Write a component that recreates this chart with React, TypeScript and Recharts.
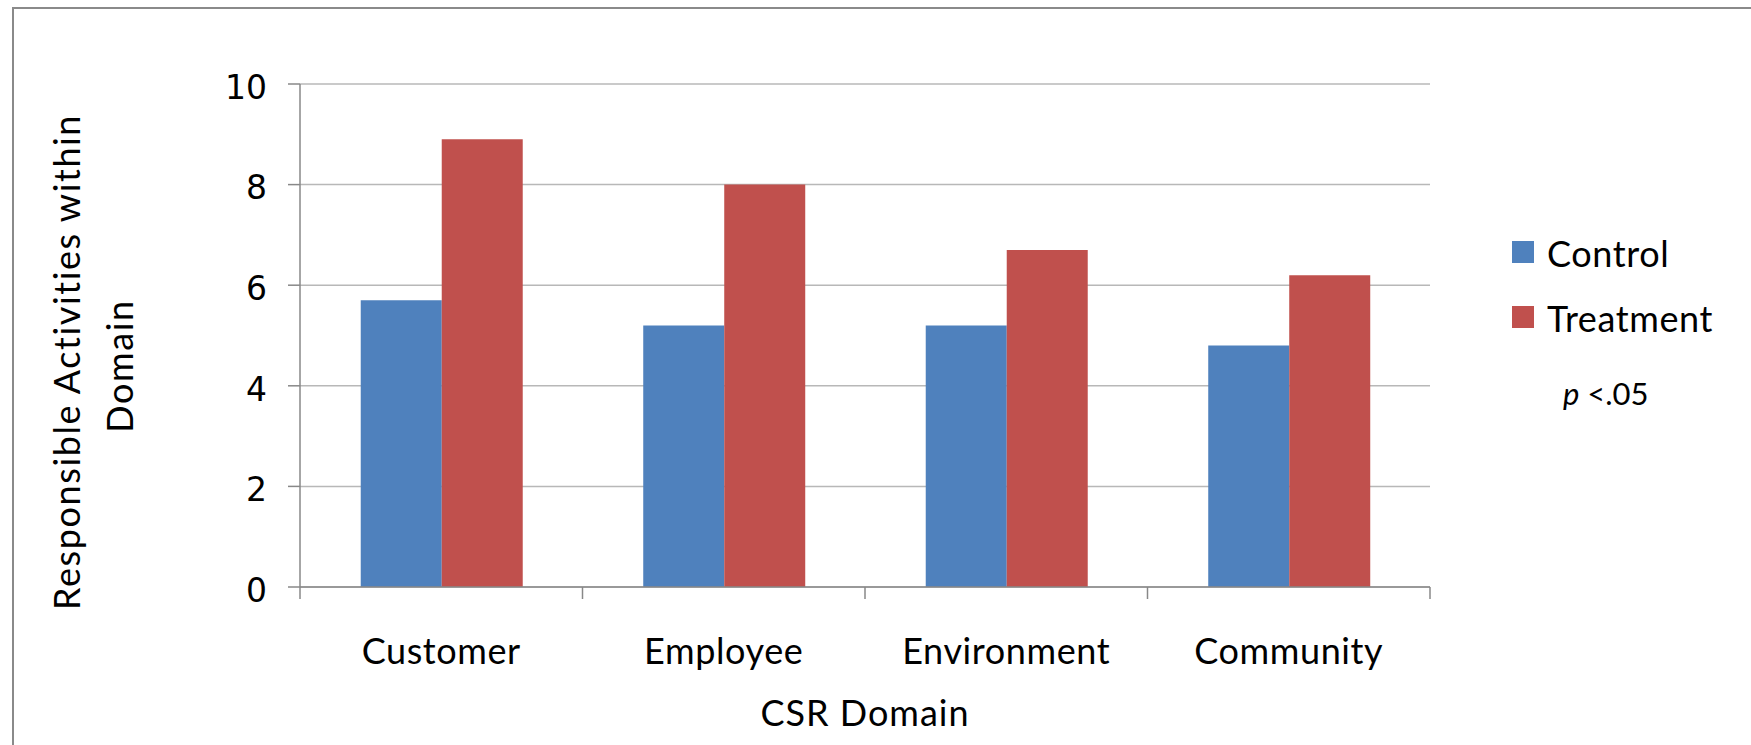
import { BarChart, Bar, XAxis, YAxis, CartesianGrid, Legend, Label } from "recharts";

const domains = ["Customer", "Employee", "Environment", "Community"];
const control = [5.7, 5.2, 5.2, 4.8];
const treatment = [8.9, 8.0, 6.7, 6.2];
const yTicks = [0, 2, 4, 6, 8, 10];

const data = domains.map((d, i) => ({ domain: d, control: control[i], treatment: treatment[i] }));

const BLUE = "#4F81BD";
const RED = "#C0504D";
const FONT = "Lato, 'Open Sans', sans-serif";

function DomainTick(props: any) {
  const { x, y, payload, index } = props;
  const off = payload?.offset ?? 0;
  return (
    <g>
      <line x1={x - off} x2={x - off} y1={y} y2={y + 12} stroke="#888" strokeWidth={1.5} />
      {index === domains.length - 1 && (
        <line x1={x + off} x2={x + off} y1={y} y2={y + 12} stroke="#888" strokeWidth={1.5} />
      )}
      <text x={x} y={y + 77} textAnchor="middle" fontFamily={FONT} fontSize={36} letterSpacing={0.6} fill="#000">
        {payload.value}
      </text>
    </g>
  );
}

function YTitle() {
  return (
    <g fontFamily={FONT} fontSize={36} fill="#000" letterSpacing={1.6}>
      <text x={80} y={362} textAnchor="middle" transform="rotate(-90 80 362)">
        Responsible Activities within
      </text>
      <text x={133} y={366} textAnchor="middle" transform="rotate(-90 133 366)">
        Domain
      </text>
    </g>
  );
}

function LegendBox() {
  return (
    <svg width={260} height={200} style={{ display: "block" }}>
      <g fontFamily={FONT} fontSize={36} fill="#000" letterSpacing={0.6}>
        <rect x={12} y={21} width={22} height={22} fill={BLUE} />
        <text x={47} y={47}>Control</text>
        <rect x={12} y={86} width={22} height={22} fill={RED} />
        <text x={47} y={112}>Treatment</text>
      </g>
      <text x={63} y={185} fontFamily={FONT} fontSize={31} fill="#000">
        <tspan fontStyle="italic">p</tspan> {"<.05"}
      </text>
    </svg>
  );
}

export default function App() {
  return (
    <div style={{ position: "absolute", left: 0, top: 0, width: 1751, height: 745, background: "#fff", overflow: "hidden" }}>
      <div
        style={{
          position: "absolute",
          left: 12,
          top: 7,
          width: 1800,
          height: 800,
          borderTop: "2px solid #8a8a8a",
          borderLeft: "2px solid #8a8a8a",
        }}
      />
      <BarChart
        width={1751}
        height={745}
        data={data}
        margin={{ top: 84, right: 321, left: 0, bottom: 0 }}
        barCategoryGap="21.5%"
        barGap={0}
        style={{ position: "absolute", left: 0, top: 0 }}
      >
        <CartesianGrid vertical={false} stroke="#B8B8B8" strokeWidth={1.5} />
        <XAxis
          dataKey="domain"
          height={158}
          axisLine={{ stroke: "#888", strokeWidth: 1.5 }}
          tickLine={false}
          tickSize={0}
          tickMargin={0}
          tick={<DomainTick />}
          interval={0}
        >
          <Label
            value="CSR Domain"
            position="insideBottom"
            offset={19}
            style={{ fontFamily: FONT, fontSize: 36, fill: "#000", letterSpacing: 1 }}
          />
        </XAxis>
        <YAxis
          width={300}
          domain={[0, 10]}
          ticks={yTicks}
          interval={0}
          tickSize={12}
          tickMargin={21}
          axisLine={{ stroke: "#888", strokeWidth: 1.5 }}
          tickLine={{ stroke: "#888", strokeWidth: 1.5 }}
          tick={{ fontFamily: "'DejaVu Sans', sans-serif", fontSize: 33, fill: "#000", dy: 3 }}
        >
          <Label content={<YTitle />} />
        </YAxis>
        <Legend
          layout="vertical"
          align="center"
          verticalAlign="middle"
          wrapperStyle={{ left: 1500, top: 220, width: 260, height: 200 }}
          content={<LegendBox />}
        />
        <Bar dataKey="control" name="Control" fill={BLUE} isAnimationActive={false} />
        <Bar dataKey="treatment" name="Treatment" fill={RED} isAnimationActive={false} />
      </BarChart>
    </div>
  );
}
